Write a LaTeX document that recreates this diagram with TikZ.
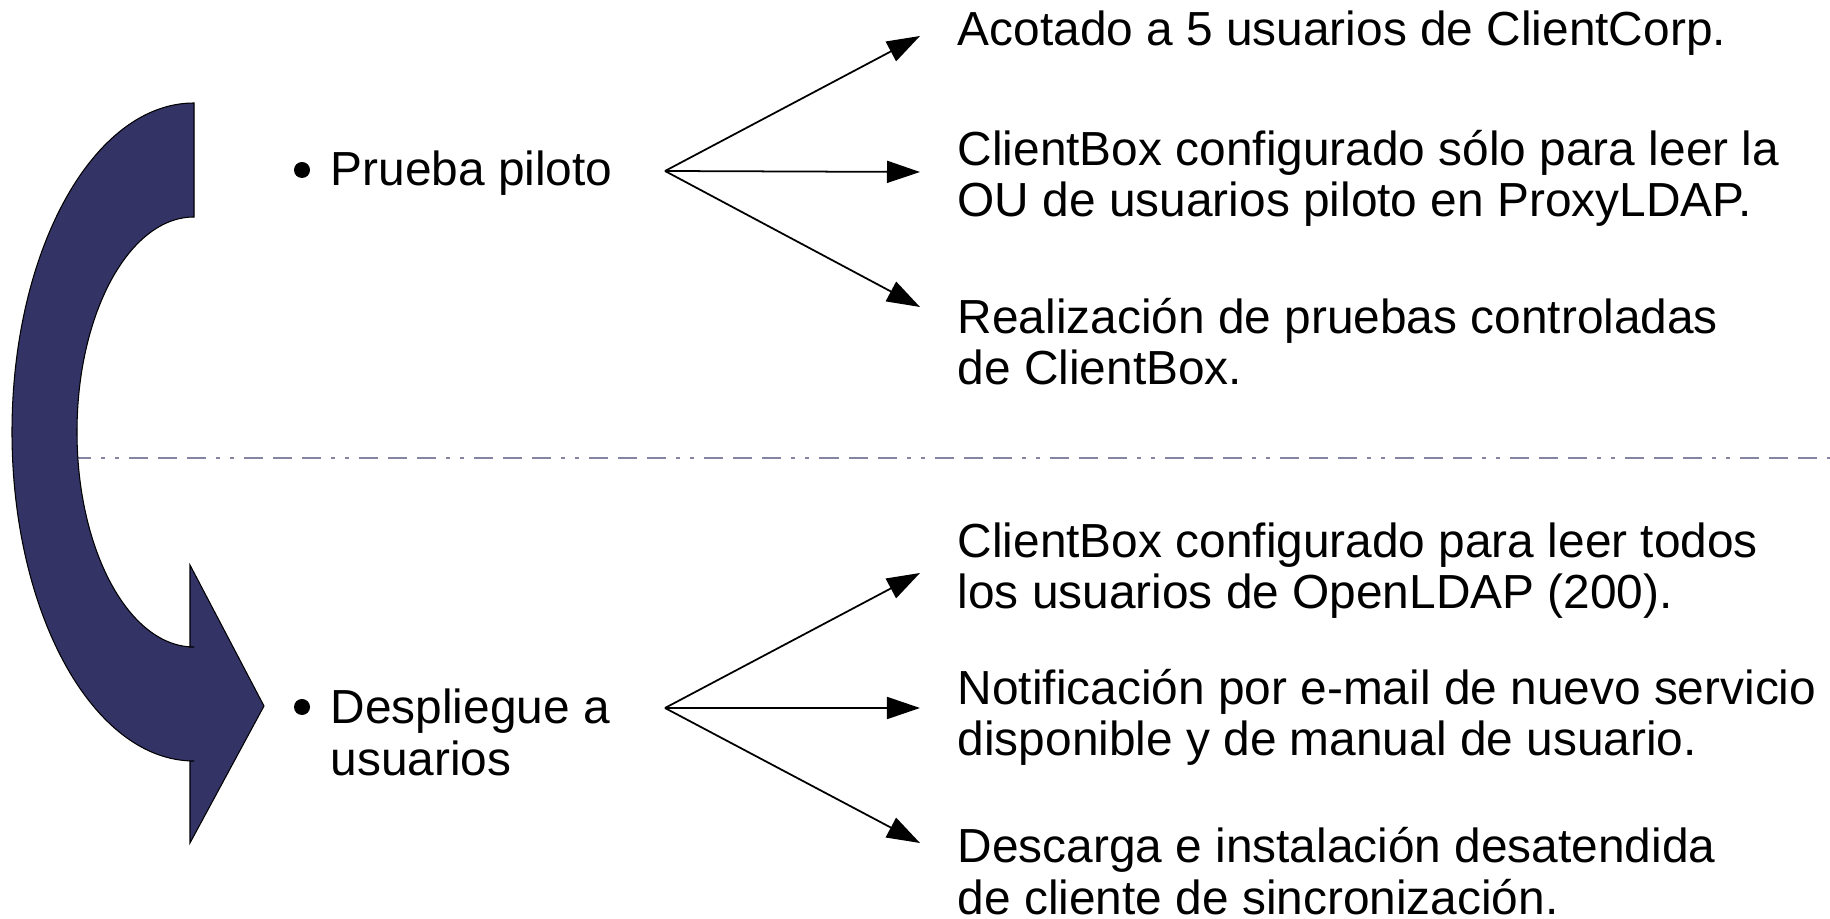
\documentclass[tikz,border=0pt]{standalone}
\usepackage{fontspec}
\setmainfont{Liberation Sans}
\usetikzlibrary{arrows.meta}
\definecolor{navyarrow}{HTML}{333366}
\tikzset{
  itemtext/.style={anchor=base west, inner sep=0pt, align=left, font=\fontsize{13.6pt}{14.6pt}\selectfont},
  bulletdot/.style={circle, fill=black, inner sep=0pt, minimum size=0.16cm},
  branch/.style={line width=0.5pt, -{Triangle[length=0.33cm, width=0.22cm]}},
  phaseline/.style={navyarrow!60, line width=0.8pt, dash pattern=on 0.19cm off 0.1cm on 0.19cm off 0.1cm on 0.19cm off 0.1cm on 0.04cm off 0.1cm on 0.04cm off 0.1cm}
}
\begin{document}
\begin{tikzpicture}[x=0.01cm, y=-0.01cm]
\useasboundingbox (0, 0) rectangle (1830, 919);

\draw[phaseline] (14, 458) -- (1830, 458);

\filldraw[fill=navyarrow, draw=black, line width=0.3pt] (194, 103)
  arc[start angle=270, end angle=90, x radius=182, y radius=329]
  -- (190, 761) -- (190, 843) -- (264, 706) -- (190, 565) -- (190, 647) -- (194, 647)
  arc[start angle=90, end angle=270, x radius=117, y radius=215] -- cycle;

\node[bulletdot] (dot1) at (302, 170) {};
\node[itemtext] (piloto) at (330, 186) {Prueba piloto};
\node[bulletdot] (dot2) at (302, 707) {};
\node[itemtext] (despl) at (330, 775) {Despliegue a\\usuarios};

\node[itemtext] (acot) at (957, 46) {Acotado a 5 usuarios de ClientCorp.};
\node[itemtext] (soloou) at (957, 217) {ClientBox configurado sólo para leer la\\OU de usuarios piloto en ProxyLDAP.};
\node[itemtext] (pruebas) at (957, 385) {Realización de pruebas controladas\\de ClientBox.};
\node[itemtext] (todos) at (957, 609) {ClientBox configurado para leer todos\\los usuarios de OpenLDAP (200).};
\node[itemtext] (notif) at (957, 756) {Notificación por e-mail de nuevo servicio\\disponible y de manual de usuario.};
\node[itemtext] (descarga) at (957, 914) {Descarga e instalación desatendida\\de cliente de sincronización.};

\coordinate (forkA) at (665, 171);
\coordinate (tipA1) at (920, 36);
\coordinate (tipA2) at (920, 172);
\coordinate (tipA3) at (920, 307);
\coordinate (forkB) at (665, 708);
\coordinate (tipB1) at (920, 573);
\coordinate (tipB2) at (920, 708);
\coordinate (tipB3) at (920, 843);

\draw[branch] (forkA) -- (tipA1);
\draw[branch] (forkA) -- (tipA2);
\draw[branch] (forkA) -- (tipA3);
\draw[branch] (forkB) -- (tipB1);
\draw[branch] (forkB) -- (tipB2);
\draw[branch] (forkB) -- (tipB3);
\end{tikzpicture}
\end{document}
